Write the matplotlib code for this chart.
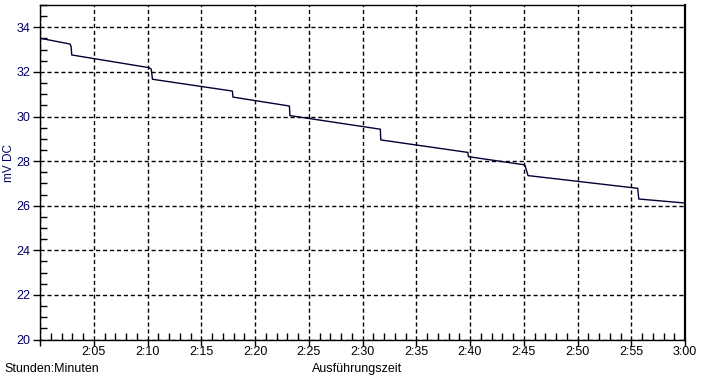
import matplotlib
matplotlib.use("Agg")
import matplotlib.pyplot as plt
from matplotlib.ticker import MultipleLocator, FuncFormatter

# Time in minutes after 2:00, voltage in mV DC
minutes = [0.0, 2.79, 2.9, 2.95, 10.15, 10.35, 10.46, 17.9, 17.95, 23.2, 23.25,
           31.66, 31.7, 39.8, 39.85, 45.1, 45.4, 55.6, 55.7, 60.0]
mv_dc = [33.51, 33.25, 33.13, 32.76, 32.19, 32.12, 31.67, 31.14, 30.87, 30.47, 30.04,
         29.43, 28.95, 28.39, 28.20, 27.83, 27.35, 26.78, 26.30, 26.12]
start_minute = 120  # 2:00

x_vals = [start_minute + m for m in minutes]

plt.rcParams['font.family'] = ['Liberation Sans', 'DejaVu Sans']

fig = plt.figure(figsize=(7.01, 3.77), dpi=100)
ax = fig.add_axes([40/701, 37.5/377, 645/701, 334.5/377])

ax.plot(x_vals, mv_dc, color='#000033', lw=1.0)

ax.set_xlim(120, 180)
ax.set_ylim(20, 35)

ax.xaxis.set_major_locator(MultipleLocator(5))
ax.xaxis.set_minor_locator(MultipleLocator(1))
ax.yaxis.set_major_locator(MultipleLocator(2))
ax.yaxis.set_minor_locator(MultipleLocator(0.5))

def fmt_time(v, pos):
    if abs(v - 120) < 1e-6:
        return ''
    h = int(v // 60)
    m = int(round(v - h * 60))
    if m == 60:
        h += 1
        m = 0
    return f"{h}:{m:02d}"

ax.xaxis.set_major_formatter(FuncFormatter(fmt_time))

ax.grid(True, which='major', color='black', linestyle=(0, (3, 2)), lw=1.0)

ax.tick_params(axis='x', which='major', direction='out', length=4, width=1,
               labelsize=9, colors='black', pad=1)
ax.tick_params(axis='x', which='minor', direction='in', length=5, width=1)
ax.tick_params(axis='y', which='major', direction='out', length=5, width=1,
               labelsize=9, labelcolor='#000066', pad=2)
ax.tick_params(axis='y', which='minor', direction='in', length=5, width=1)

for s in ['left', 'bottom', 'top']:
    ax.spines[s].set_color('black')
    ax.spines[s].set_linewidth(1.0)
ax.spines['right'].set_linewidth(1.6)

fig.text(9/701, 1 - 163/377, 'mV DC', rotation=90, ha='center', va='center',
         fontsize=8.5, color='#000066')
fig.text(4/701, 1 - 369/377, 'Stunden:Minuten', ha='left', va='center', fontsize=9)
fig.text(357/701, 1 - 369/377, 'Ausführungszeit', ha='center', va='center', fontsize=9)

fig.savefig('out.png', dpi=100)
